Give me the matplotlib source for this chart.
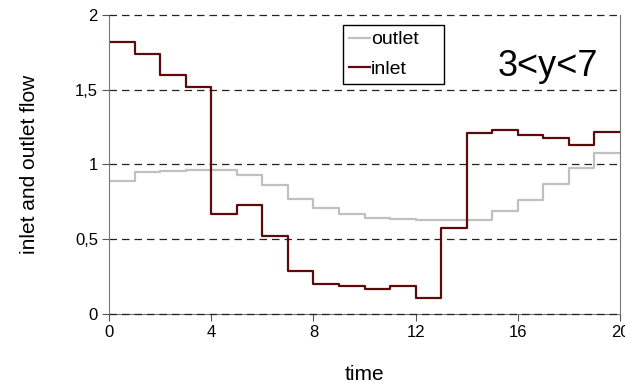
import matplotlib
matplotlib.use('Agg')
import matplotlib.pyplot as plt
import numpy as np

plt.rcParams['font.family'] = ['Liberation Sans', 'DejaVu Sans']

time = np.arange(0, 21)
inlet = [1.82, 1.74, 1.60, 1.52, 0.67, 0.73, 0.52, 0.29, 0.20, 0.19,
         0.17, 0.19, 0.11, 0.575, 1.21, 1.23, 1.195, 1.18, 1.13, 1.22]
outlet = [0.89, 0.95, 0.955, 0.96, 0.96, 0.93, 0.86, 0.77, 0.71, 0.67,
          0.64, 0.635, 0.63, 0.63, 0.63, 0.69, 0.76, 0.87, 0.975, 1.08]
yticks = [0, 0.5, 1, 1.5, 2]
ytick_labels = ['0', '0,5', '1', '1,5', '2']
xticks = [0, 4, 8, 12, 16, 20]

fig = plt.figure(figsize=(6.25, 3.83), dpi=100)
ax = fig.add_axes([0.1744, 0.180, 0.8176, 0.781])

ax.plot(time, outlet + [outlet[-1]], drawstyle='steps-post', color='#c0c0c0', lw=1.6, label='outlet')
ax.plot(time, inlet + [inlet[-1]], drawstyle='steps-post', color='#5c0a0a', lw=1.6, label='inlet')

ax.set_xlim(0, 20)
ax.set_ylim(0, 2)
ax.set_xticks(xticks)
ax.set_yticks(yticks)
ax.set_yticklabels(ytick_labels)
ax.tick_params(labelsize=12, direction='out', color='#555555', length=5, pad=3)
for y in yticks:
    z = 3 if y in (0, 2) else 1
    ax.axhline(y, color='#222222', lw=0.9, ls=(0, (6, 4)), zorder=z, clip_on=False)
ax.spines['top'].set_visible(False)
for s in ['left', 'right', 'bottom']:
    ax.spines[s].set_color('#777777')

ax.set_xlabel('time', fontsize=15, labelpad=18)
ax.set_ylabel('inlet and outlet flow', fontsize=15, labelpad=26)

ax.legend(loc='upper left', bbox_to_anchor=(0.458, 0.7525, 0.198, 0.214), mode='expand',
          fontsize=14, frameon=True, fancybox=False, edgecolor='black',
          handlelength=1.1, handletextpad=0.05, borderpad=0.3, labelspacing=0.6,
          borderaxespad=0, framealpha=1)
ax.text(0.859, 0.828, '3<y<7', transform=ax.transAxes, fontsize=26, ha='center', va='center')

fig.savefig('out.png', dpi=100)
